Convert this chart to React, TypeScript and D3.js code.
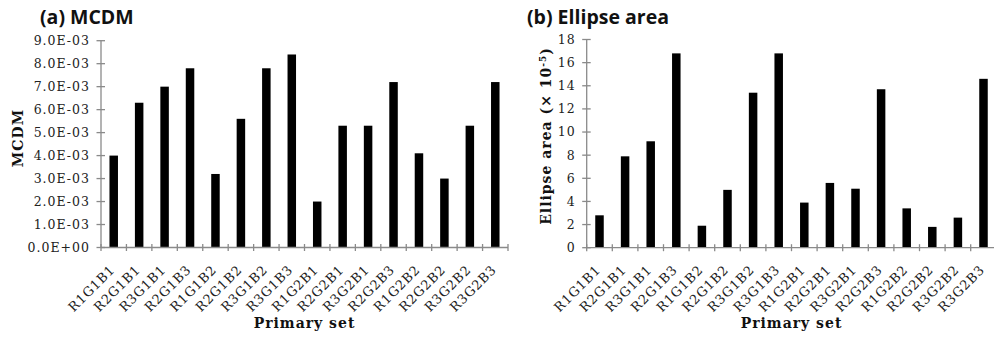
import React from "react";
import * as d3 from "d3";

const categories = [
  "R1G1B1", "R2G1B1", "R3G1B1", "R2G1B3", "R1G1B2", "R2G1B2", "R3G1B2", "R3G1B3",
  "R1G2B1", "R2G2B1", "R3G2B1", "R2G2B3", "R1G2B2", "R2G2B2", "R3G2B2", "R3G2B3",
];

const mcdmValues = [
  0.0040, 0.0063, 0.0070, 0.0078, 0.0032, 0.0056, 0.0078, 0.0084,
  0.0020, 0.0053, 0.0053, 0.0072, 0.0041, 0.0030, 0.0053, 0.0072,
];

const ellipseValues = [
  2.8, 7.9, 9.2, 16.8, 1.9, 5.0, 13.4, 16.8,
  3.9, 5.6, 5.1, 13.7, 3.4, 1.8, 2.6, 14.6,
];

const mcdmTicks = [0, 0.001, 0.002, 0.003, 0.004, 0.005, 0.006, 0.007, 0.008, 0.009];
const mcdmTickLabels = [
  "0.0E+00", "1.0E-03", "2.0E-03", "3.0E-03", "4.0E-03",
  "5.0E-03", "6.0E-03", "7.0E-03", "8.0E-03", "9.0E-03",
];
const ellipseTicks = [0, 2, 4, 6, 8, 10, 12, 14, 16, 18];
const ellipseTickLabels = ["0", "2", "4", "6", "8", "10", "12", "14", "16", "18"];

const AXIS = "#8a8a8a";
const SERIF = "'DejaVu Serif', serif";
const SANS = "'Open Sans', sans-serif";

type PanelProps = {
  title: string;
  titleX: number;
  x0: number;
  x1: number;
  yTop: number;
  yBottom: number;
  values: number[];
  ticks: number[];
  tickLabels: string[];
  yLabelX: number;
  yLabelY: number;
  yLabel: React.ReactNode;
};

function Panel(p: PanelProps) {
  const x = d3.scaleBand<string>().domain(categories).range([p.x0, p.x1]).padding(0);
  const maxT = p.ticks[p.ticks.length - 1];
  const y = d3.scaleLinear().domain([0, maxT]).range([p.yBottom, p.yTop]);
  const bw = 8.5;
  const bandEdges = categories.map((c) => x(c)!).concat([p.x1]);
  return (
    <g>
      <text x={p.titleX} y={24} fontFamily={SANS} fontWeight={700} fontSize={19.5} fill="#111">
        {p.title}
      </text>
      {categories.map((c, i) => (
        <rect
          key={c}
          x={x(c)! + x.bandwidth() / 2 - bw / 2}
          y={y(p.values[i])}
          width={bw}
          height={y(0) - y(p.values[i])}
          fill="#000"
        />
      ))}
      <line x1={p.x0} x2={p.x0} y1={y(maxT)} y2={y(0)} stroke={AXIS} strokeWidth={1.3} />
      <line x1={p.x0} x2={p.x1} y1={y(0)} y2={y(0)} stroke={AXIS} strokeWidth={1.3} />
      {p.ticks.map((t, i) => (
        <g key={t}>
          <line x1={p.x0 - 4.5} x2={p.x0 + 4} y1={y(t)} y2={y(t)} stroke={AXIS} strokeWidth={1.3} />
          <text
            x={p.x0 - 11}
            y={y(t)}
            dy="0.35em"
            textAnchor="end"
            fontFamily={SERIF}
            fontSize={12.5}
            letterSpacing={1}
            fill="#222"
          >
            {p.tickLabels[i]}
          </text>
        </g>
      ))}
      {bandEdges.map((e, i) => (
        <line key={i} x1={e} x2={e} y1={y(0) - 3.5} y2={y(0) + 3.5} stroke={AXIS} strokeWidth={1.3} />
      ))}
      {categories.map((c) => {
        const cx = x(c)! + x.bandwidth() / 2 + 2;
        const cy = y(0) + 23;
        return (
          <text
            key={c}
            x={cx}
            y={cy}
            textAnchor="end"
            transform={`rotate(-45, ${cx}, ${cy})`}
            fontFamily={SERIF}
            fontSize={13}
            letterSpacing={0.8}
            fill="#222"
          >
            {c}
          </text>
        );
      })}
      <text
        x={(p.x0 + p.x1) / 2}
        y={328}
        textAnchor="middle"
        fontFamily={SERIF}
        fontWeight={700}
        fontSize={14}
        letterSpacing={1}
        fill="#111"
      >
        Primary set
      </text>
      <text
        x={p.yLabelX}
        y={p.yLabelY}
        textAnchor="middle"
        dy="0.35em"
        transform={`rotate(-90, ${p.yLabelX}, ${p.yLabelY})`}
        fontFamily={SERIF}
        fontWeight={700}
        fontSize={14}
        letterSpacing={1}
        fill="#111"
      >
        {p.yLabel}
      </text>
    </g>
  );
}

export default function App() {
  return (
    <svg
      width={994}
      height={337}
      style={{ position: "absolute", left: 0, top: 0, background: "#fff" }}
    >
      <rect width={994} height={337} fill="#fff" />
      <Panel
        title="(a) MCDM"
        titleX={40}
        x0={101}
        x1={508}
        yTop={40.7}
        yBottom={247.5}
        values={mcdmValues}
        ticks={mcdmTicks}
        tickLabels={mcdmTickLabels}
        yLabelX={18.5}
        yLabelY={138}
        yLabel="MCDM"
      />
      <Panel
        title="(b) Ellipse area"
        titleX={527}
        x0={586.7}
        x1={996.3}
        yTop={39.5}
        yBottom={247.7}
        values={ellipseValues}
        ticks={ellipseTicks}
        tickLabels={ellipseTickLabels}
        yLabelX={546.5}
        yLabelY={136}
        yLabel={
          <>
            Ellipse area (× 10
            <tspan fontSize={9} dy="-5">-5</tspan>
            <tspan dy="5">)</tspan>
          </>
        }
      />
    </svg>
  );
}
